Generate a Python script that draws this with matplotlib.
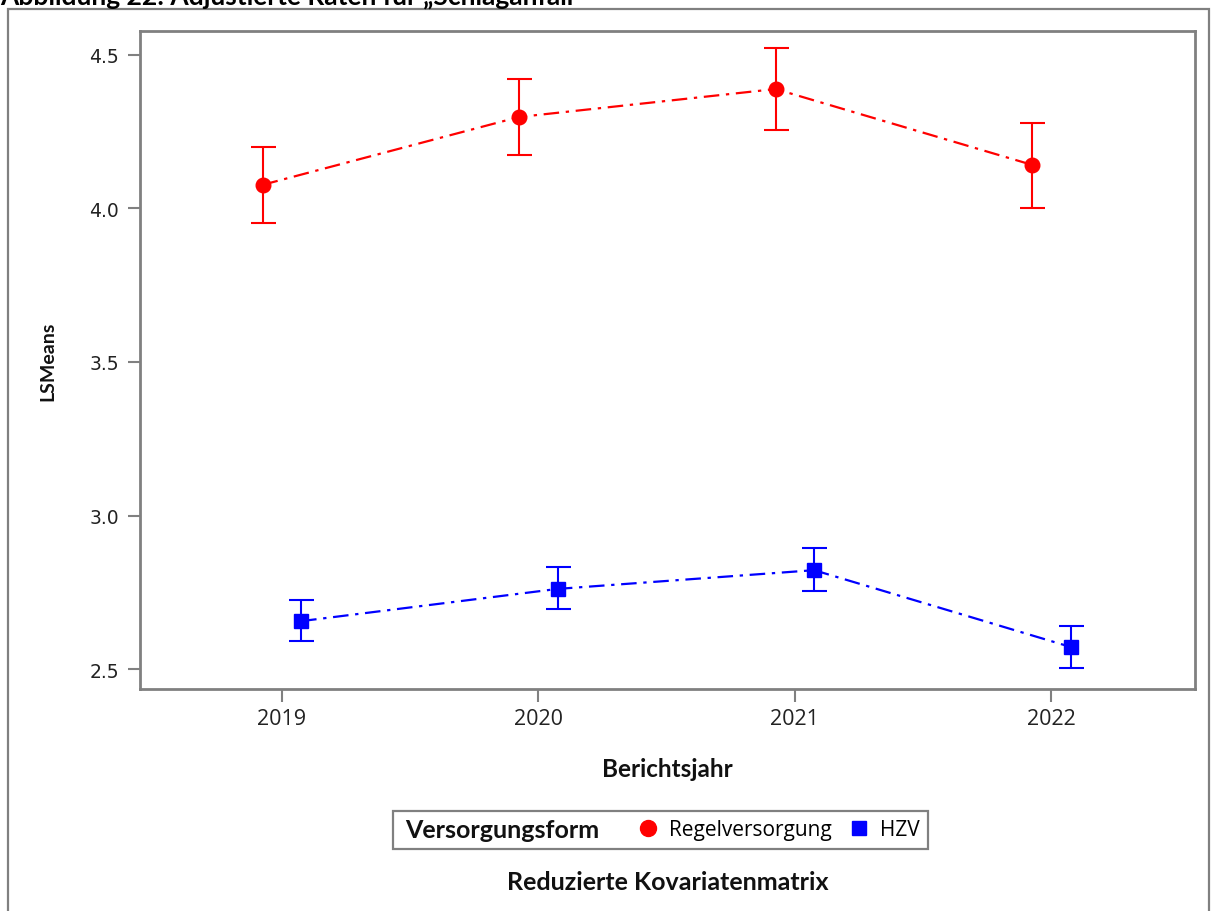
import matplotlib
matplotlib.use("Agg")
import matplotlib.pyplot as plt
from matplotlib.lines import Line2D
from matplotlib.patches import Rectangle
from matplotlib import font_manager
import numpy as np

years = [2019, 2020, 2021, 2022]
regel_mean = [4.077, 4.298, 4.389, 4.142]
regel_low = [3.953, 4.174, 4.256, 4.000]
regel_high = [4.200, 4.422, 4.523, 4.279]
hzv_mean = [2.656, 2.761, 2.822, 2.572]
hzv_low = [2.591, 2.695, 2.754, 2.503]
hzv_high = [2.725, 2.832, 2.894, 2.640]
yticks = [2.5, 3.0, 3.5, 4.0, 4.5]

plt.rcParams['font.family'] = ['Open Sans', 'DejaVu Sans']

names = {f.name for f in font_manager.fontManager.ttflist}
narrow = 'Liberation Sans Narrow' if 'Liberation Sans Narrow' in names else 'Lato'

W, H = 1212, 912
fig = plt.figure(figsize=(W / 100, H / 100), dpi=100)
ax = fig.add_axes([140/W, 1-690/H, (1195-140)/W, (690-32)/H])

x = np.arange(len(years))
off = 0.075
ls = (0, (7, 3, 1.5, 3))

rm = np.array(regel_mean)
ax.errorbar(x - off, rm, yerr=[rm - np.array(regel_low), np.array(regel_high) - rm],
            color='#ff0000', ecolor='#ff0000', elinewidth=1.5, capsize=9, capthick=1.5,
            linestyle=ls, linewidth=1.6, marker='o', markersize=10.5, zorder=3)
hm = np.array(hzv_mean)
ax.errorbar(x + off, hm, yerr=[hm - np.array(hzv_low), np.array(hzv_high) - hm],
            color='#0000ff', ecolor='#0000ff', elinewidth=1.5, capsize=9, capthick=1.5,
            linestyle=ls, linewidth=1.6, marker='s', markersize=10.5, zorder=3)

ax.set_xlim(-0.553, 3.56)
ax.set_ylim(2.435, 4.578)
ax.set_xticks(x)
ax.set_xticklabels([str(y) for y in years], family=['Open Sans', 'DejaVu Sans'], fontsize=15.5)
ax.set_yticks(yticks)
ax.set_yticklabels([f"{v:.1f}" for v in yticks], family=['DejaVu Sans'], fontsize=13.5)
for s in ax.spines.values():
    s.set_color('#808080')
    s.set_linewidth(2)
ax.tick_params(axis='both', colors='#808080', length=9, width=1.5,
               labelcolor='#222222')
ax.tick_params(axis='y', pad=6)
ax.tick_params(axis='x', pad=5)

ax.set_xlabel('Berichtsjahr', family=['Lato', 'DejaVu Sans'], fontweight='bold',
              fontsize=17.5, color='#111111')
ax.xaxis.set_label_coords(0.5, (690 - 770) / 658)
ax.xaxis.label.set_verticalalignment('center')
ax.set_ylabel('LSMeans', family=[narrow, 'DejaVu Sans'], fontweight='bold',
              fontsize=15 if narrow != 'Lato' else 14, color='#111111')
ax.yaxis.set_label_coords((48 - 140) / 1055, 0.5)
ax.yaxis.label.set_verticalalignment('center')

# outer frame
fig.patches.append(Rectangle((8/W, -0.05), (1209-8)/W, 1.05 - 10/H,
                             transform=fig.transFigure, fill=False,
                             edgecolor='#808080', linewidth=1.6))

# clipped title at very top
fig.text(0.0, 1 - 6/H, 'Abbildung 22: Adjustierte Raten für \u201eSchlaganfall\u201c',
         family=['Lato', 'DejaVu Sans'], fontweight='bold', fontsize=19,
         va='baseline', ha='left', color='#000000')

# legend frame and title
fig.patches.append(Rectangle((393/W, 1 - 850/H), (928-393)/W, 38/H,
                             transform=fig.transFigure, fill=False,
                             edgecolor='#808080', linewidth=1.6))
fig.text(405/W, 1 - 831/H, 'Versorgungsform', family=['Lato', 'DejaVu Sans'],
         fontweight='bold', fontsize=18, ha='left', va='center', color='#111111')

handles = [Line2D([], [], linestyle='none', marker='o', color='#ff0000', markersize=11.5),
           Line2D([], [], linestyle='none', marker='s', color='#0000ff', markersize=10.5)]
labels = ['Regelversorgung', 'HZV']
leg = fig.legend(handles, labels, ncol=2, loc='center left',
                 bbox_to_anchor=(640/W, 1 - 831/H), frameon=False,
                 fontsize=15, handlelength=0.8, handletextpad=0.6,
                 columnspacing=0.9, borderpad=0.0, borderaxespad=0.0)

fig.text(668/W, 1 - 883/H, 'Reduzierte Kovariatenmatrix',
         family=['Lato', 'DejaVu Sans'], fontweight='bold', fontsize=18,
         ha='center', va='center', color='#111111')

fig.savefig('out.png', dpi=100)
